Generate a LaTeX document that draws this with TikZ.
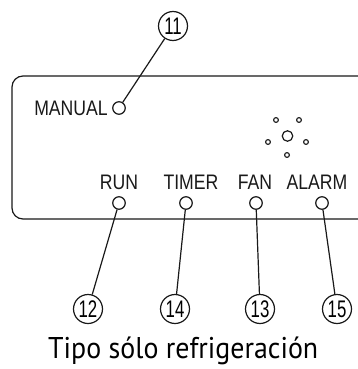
\documentclass[tikz,border=0pt]{standalone}
\usepackage{fontspec}
\usepackage{graphicx}
\newfontfamily\lblfont[FakeStretch=0.84]{Liberation Sans}
\newfontfamily\numfont[FakeStretch=0.7]{Liberation Sans}
\newfontfamily\capfont{PT Sans}
\begin{document}
\begin{tikzpicture}[x=1pt,y=-1pt,
  ln/.style={draw=black!90,line width=1.2pt},
  led/.style={circle,ln,fill=white,inner sep=0pt,minimum size=12.5pt},
  dotc/.style={circle,draw=black!90,line width=1.1pt,fill=white,inner sep=0pt,minimum size=4.8pt},
  numc/.style={circle,ln,inner sep=0pt,minimum size=29pt,font=\numfont\fontsize{24}{24}\selectfont,text=black},
  lbl/.style={inner sep=0pt,font=\lblfont\fontsize{21}{21}\selectfont,text=black!90}]
\useasboundingbox (0,0) rectangle (358,369);
\clip (0,0) rectangle (358,369);
% panel
\draw[ln,rounded corners=11pt] (375,76) -- (12,76) -- (12,219) -- (375,219);
% leds
\node[led] (manled) at (119,108) {};
\node[led] (runled) at (119,203) {};
\node[led] (timled) at (186,203) {};
\node[led] (fanled) at (256,203) {};
\node[led] (alaled) at (322,203) {};
% labels
\node[lbl,anchor=base east] (manual) at (108,115) {MANUAL};
\node[lbl,anchor=base] (run) at (119,189) {RUN};
\node[lbl,anchor=base] (timer) at (191,189) {TIMER};
\node[lbl,anchor=base] (fan) at (255,189) {FAN};
\node[lbl,anchor=base] (alarm) at (317,189) {ALARM};
% sensor cluster
\node[circle,draw=black!90,line width=1.2pt,inner sep=0pt,minimum size=10.5pt] (sensor) at (287.5,136) {};
\node[dotc] (d1) at (276,120) {};
\node[dotc] (d2) at (299,120) {};
\node[dotc] (d3) at (268,142) {};
\node[dotc] (d4) at (306,142) {};
\node[dotc] (d5) at (287,155) {};
% numbered callouts
\node[numc] (n11) at (173,26) {11};
\node[numc] (n12) at (88,309) {12};
\node[numc] (n14) at (175,309) {14};
\node[numc] (n13) at (260,309) {13};
\node[numc] (n15) at (337,309) {15};
% leaders
\draw[ln] (n11) -- (manled);
\draw[ln] (runled) -- (n12);
\draw[ln] (timled) -- (n14);
\draw[ln] (fanled) -- (n13);
\draw[ln] (alaled) -- (n15);
% caption
\node[inner sep=0pt,anchor=base west,font=\capfont\fontsize{30}{30}\selectfont] (cap) at (48,358) {\resizebox{270pt}{\height}{Tipo sólo refrigeración}};
\end{tikzpicture}
\end{document}
